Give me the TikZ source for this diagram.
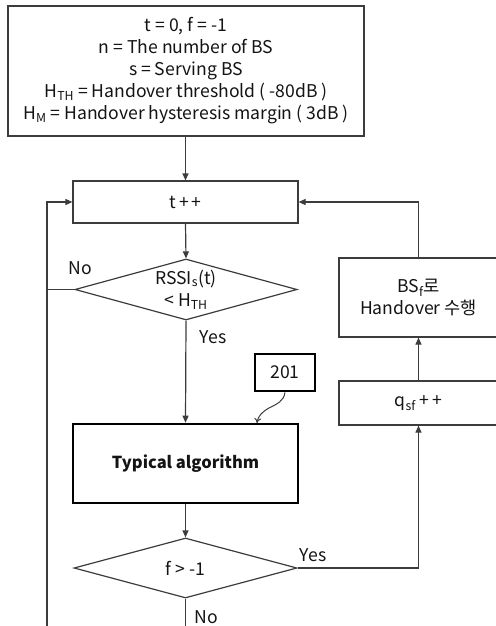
\documentclass[tikz,border=0pt]{standalone}
\usepackage{fontspec}
\setmainfont{Noto Sans CJK KR}
\usetikzlibrary{shapes.geometric,arrows.meta}
\definecolor{ln}{RGB}{60,60,60}
\definecolor{tx}{RGB}{20,20,20}
\begin{document}
\begin{tikzpicture}[x=1pt,y=-1pt,
  every node/.style={text=tx,font=\fontsize{17.6}{22}\selectfont},
  box/.style={draw=ln,line width=1.2pt,inner sep=0pt,align=center},
  thickbox/.style={draw=black,line width=2.6pt,inner sep=0pt,align=center},
  dia/.style={draw=ln,line width=1.2pt,diamond,aspect=3.6,inner sep=0pt,align=center},
  flow/.style={draw=ln,line width=1.2pt},
  arr/.style={flow,-{Triangle[length=7pt,width=6pt]}},
  lbl/.style={inner sep=0pt}
]
\fill[white] (0,0) rectangle (495,626);
\useasboundingbox (0,0) rectangle (495,626);

\node[box,minimum width=356pt,minimum height=130pt] (init) at (186,71)
  {t = 0, f = -1\\ n = The number of BS\\ s = Serving BS\\
   H\textsubscript{TH} = Handover threshold ( -80dB )\\
   H\textsubscript{M} = Handover hysteresis margin ( 3dB )};
\node[box,minimum width=225pt,minimum height=42pt] (tpp) at (185.5,202) {t\,+\,+};
\node[dia,minimum width=222pt,minimum height=61pt] (d1) at (186,289.5)
  {RSSI\textsubscript{s}(t)\\ < H\textsubscript{TH}};
\node[thickbox,minimum width=225pt,minimum height=79pt,font=\fontsize{16.5}{22}\selectfont\bfseries] (typ) at (185.5,463.5) {Typical algorithm};
\node[thickbox,minimum width=60pt,minimum height=37pt] (n201) at (285,372.5) {201};
\node[dia,minimum width=223pt,minimum height=60pt] (d2) at (185.5,568) {f > -1};
\node[box,minimum width=159pt,minimum height=79pt] (bs) at (418.5,297.5)
  {BS\textsubscript{f}로\\ Handover 수행};
\node[box,minimum width=159pt,minimum height=44pt] (q) at (418.5,403) {q\textsubscript{sf} +\,+};

\coordinate (bl) at (47,640);
\coordinate (bm) at (185.5,640);
\coordinate (c201) at (257,423);

\draw[arr] (init.south -| tpp.north) -- (tpp.north);
\draw[arr] (tpp.south) -- (d1.north);
\draw[arr] (d1.south) -- (typ.north);
\draw[arr] (typ.south) -- (d2.north);
\draw[flow] (d1.west) -- (d1.west -| bl);
\draw[arr] (bl) |- (tpp.west);
\draw[flow] (d2.south) -- (bm);
\draw[arr] (d2.east) -| (q.south);
\draw[arr] (q.north) -- (bs.south);
\draw[arr] (bs.north) |- (tpp.east);
\draw[draw=ln,line width=1pt,-{To[length=5pt,width=7pt]}] (n201.south)
  .. controls (284,401) and (277,404) .. (269,408)
  .. controls (262,412) and (258,416) .. (c201);

\node[lbl] (no1) at (80,268) {No};
\node[lbl] (yes1) at (213,337) {Yes};
\node[lbl] (yes2) at (313,555) {Yes};
\node[lbl] (no2) at (206,617) {No};
\end{tikzpicture}
\end{document}
